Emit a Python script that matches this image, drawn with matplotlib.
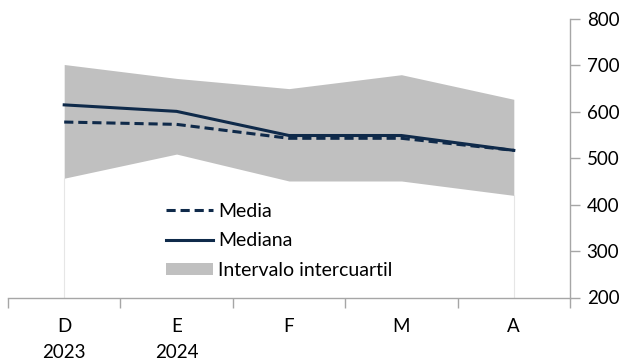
import numpy as np
import matplotlib.pyplot as plt

meses = ["D\n2023", "E\n2024", "F", "M", "A"]
media = [578, 573, 543, 543, 517]
mediana = [615, 601, 549, 549, 517]
q25 = [457, 509, 451, 451, 420]
q75 = [702, 672, 650, 680, 627]

plt.rcParams['font.family'] = ['Lato', 'DejaVu Sans']
plt.rcParams['font.size'] = 13.5

azul = '#0f2a4a'
gris = '#c0c0c0'
eje = '#a6a6a6'

fig = plt.figure(figsize=(6.24, 3.62), dpi=100)
ax = fig.add_axes([8 / 624, 1 - 297.5 / 362, (570 - 8) / 624, (297.5 - 19) / 362])

x = np.arange(len(meses))
# bordes tenues del area inferior
ax.vlines([x[0], x[-1]], 200, [q25[0], q25[-1]], color='#e6e6e6', lw=0.8, zorder=1)
ax.fill_between(x, q25, q75, color=gris, lw=0, zorder=2, label='Intervalo intercuartil')
ax.plot(x, media, color=azul, lw=2.2, dashes=(3, 1.6), zorder=3, label='Media')
ax.plot(x, mediana, color=azul, lw=2.2, zorder=3, label='Mediana')

ax.set_xlim(-0.5, len(meses) - 0.5)
ax.set_ylim(200, 800)
ax.set_yticks(range(200, 801, 100))

ax.yaxis.tick_right()
ax.tick_params(axis='y', direction='out', length=7, color=eje, width=1, pad=5)
ax.set_xticks(np.arange(-0.5, len(meses)), [''] * (len(meses) + 1))
ax.set_xticks(x, meses, minor=True)
ax.tick_params(axis='x', which='major', direction='out', length=7, color=eje, width=1)
ax.tick_params(axis='x', which='minor', length=0, pad=15)
for t in ax.get_xticklabels(minor=True):
    t.set_linespacing(1.6)
    t.set_verticalalignment('top')

for s in ['top', 'left']:
    ax.spines[s].set_visible(False)
for s in ['bottom', 'right']:
    ax.spines[s].set_color(eje)
    ax.spines[s].set_linewidth(1)

h, l = ax.get_legend_handles_labels()
orden = [1, 2, 0]
ax.legend([h[i] for i in orden], [l[i] for i in orden], loc='upper left',
          bbox_to_anchor=(0.281, 0.34), frameon=False, handlelength=2.4,
          handleheight=0.6, handletextpad=0.3, labelspacing=0.65, borderpad=0,
          borderaxespad=0, fontsize=14)

fig.savefig('out.png', dpi=100)
